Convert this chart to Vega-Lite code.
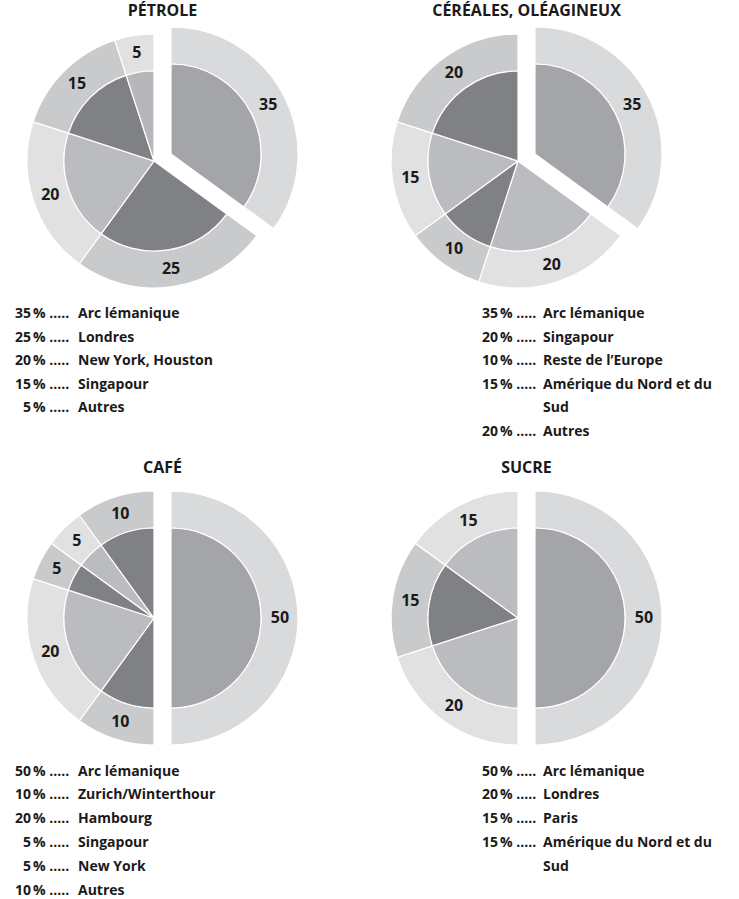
{
  "$schema": "https://vega.github.io/schema/vega-lite/v6.json",
  "background": "white",
  "padding": {"left": 4, "top": 2, "right": 0, "bottom": 0},
  "config": {
    "view": {"stroke": null},
    "title": {"font": "Open Sans", "fontSize": 16, "fontWeight": "bold", "color": "#1a1a1a", "anchor": "middle", "frame": "group", "baseline": "alphabetic", "offset": 6, "dx": 8.5},
    "text": {"font": "Open Sans", "color": "#1a1a1a"}
  },
  "datasets": {
    "petrole": [
      {"order": 1, "value": 35, "label": "Arc lémanique"},
      {"order": 2, "value": 25, "label": "Londres"},
      {"order": 3, "value": 20, "label": "New York, Houston"},
      {"order": 4, "value": 15, "label": "Singapour"},
      {"order": 5, "value": 5, "label": "Autres"}
    ],
    "cereales": [
      {"order": 1, "value": 35, "label": "Arc lémanique"},
      {"order": 2, "value": 20, "label": "Singapour"},
      {"order": 3, "value": 10, "label": "Reste de l’Europe"},
      {"order": 4, "value": 15, "label": "Amérique du Nord et du\nSud"},
      {"order": 5, "value": 20, "label": "Autres"}
    ],
    "cafe": [
      {"order": 1, "value": 50, "label": "Arc lémanique"},
      {"order": 2, "value": 10, "label": "Zurich/Winterthour"},
      {"order": 3, "value": 20, "label": "Hambourg"},
      {"order": 4, "value": 5, "label": "Singapour"},
      {"order": 5, "value": 5, "label": "New York"},
      {"order": 6, "value": 10, "label": "Autres"}
    ],
    "sucre": [
      {"order": 1, "value": 50, "label": "Arc lémanique"},
      {"order": 2, "value": 20, "label": "Londres"},
      {"order": 3, "value": 15, "label": "Paris"},
      {"order": 4, "value": 15, "label": "Amérique du Nord et du\nSud"}
    ]
  },
  "columns": 2,
  "spacing": {"row": 0, "column": 64},
  "concat": [
    {
      "width": 300, "height": 272,
      "title": "PÉTROLE",
      "data": {"name": "petrole"},
      "encoding": {
        "theta": {"field": "value", "type": "quantitative", "stack": true},
        "order": {"field": "order", "type": "quantitative", "sort": "ascending"}
      },
      "layer": [
        {"mark": {"type": "arc", "outerRadius": 127, "innerRadius": 90, "stroke": "white", "strokeWidth": 1.2},
         "encoding": {"color": {"field": "order", "type": "ordinal", "legend": null, "scale": {"domain": [1,2,3,4,5], "range": ["#d9dadb","#c9cacc","#e1e1e2","#c9cacc","#e1e1e2"]}},
                      "opacity": {"condition": {"test": "datum.order === 1", "value": 0}, "value": 1}}},
        {"mark": {"type": "arc", "outerRadius": 127, "innerRadius": 90, "stroke": "white", "strokeWidth": 1.2, "xOffset": 17, "yOffset": -7},
         "encoding": {"color": {"field": "order", "type": "ordinal", "legend": null, "scale": {"domain": [1,2,3,4,5], "range": ["#d9dadb","#c9cacc","#e1e1e2","#c9cacc","#e1e1e2"]}},
                      "opacity": {"condition": {"test": "datum.order === 1", "value": 1}, "value": 0}}},
        {"mark": {"type": "arc", "outerRadius": 90, "stroke": "white", "strokeWidth": 1.2},
         "encoding": {"fill": {"field": "order", "type": "ordinal", "legend": null, "scale": {"domain": [1,2,3,4,5], "range": ["#a4a5a8","#808184","#bbbcbf","#808184","#b6b7ba"]}},
                      "opacity": {"condition": {"test": "datum.order === 1", "value": 0}, "value": 1}}},
        {"mark": {"type": "arc", "outerRadius": 90, "stroke": "white", "strokeWidth": 1.2, "xOffset": 17, "yOffset": -7},
         "encoding": {"fill": {"field": "order", "type": "ordinal", "legend": null, "scale": {"domain": [1,2,3,4,5], "range": ["#a4a5a8","#808184","#bbbcbf","#808184","#b6b7ba"]}},
                      "opacity": {"condition": {"test": "datum.order === 1", "value": 1}, "value": 0}}},
        {"mark": {"type": "text", "radius": 109, "fontSize": 16, "fontWeight": "bold", "align": "center", "baseline": "middle"},
         "encoding": {"text": {"field": "value", "type": "quantitative"},
                      "opacity": {"condition": {"test": "datum.order === 1", "value": 0}, "value": 1}}},
        {"mark": {"type": "text", "radius": 109, "fontSize": 16, "fontWeight": "bold", "align": "center", "baseline": "middle", "xOffset": 17, "yOffset": -7},
         "encoding": {"text": {"field": "value", "type": "quantitative"},
                      "opacity": {"condition": {"test": "datum.order === 1", "value": 1}, "value": 0}}}
      ],
      "resolve": {"scale": {"color": "independent", "fill": "independent"}}
    },
    {
      "width": 300, "height": 272,
      "title": "CÉRÉALES, OLÉAGINEUX",
      "data": {"name": "cereales"},
      "encoding": {
        "theta": {"field": "value", "type": "quantitative", "stack": true},
        "order": {"field": "order", "type": "quantitative", "sort": "ascending"}
      },
      "layer": [
        {"mark": {"type": "arc", "outerRadius": 127, "innerRadius": 90, "stroke": "white", "strokeWidth": 1.2},
         "encoding": {"color": {"field": "order", "type": "ordinal", "legend": null, "scale": {"domain": [1,2,3,4,5], "range": ["#d9dadb","#e1e1e2","#c9cacc","#e1e1e2","#c9cacc"]}},
                      "opacity": {"condition": {"test": "datum.order === 1", "value": 0}, "value": 1}}},
        {"mark": {"type": "arc", "outerRadius": 127, "innerRadius": 90, "stroke": "white", "strokeWidth": 1.2, "xOffset": 17, "yOffset": -7},
         "encoding": {"color": {"field": "order", "type": "ordinal", "legend": null, "scale": {"domain": [1,2,3,4,5], "range": ["#d9dadb","#e1e1e2","#c9cacc","#e1e1e2","#c9cacc"]}},
                      "opacity": {"condition": {"test": "datum.order === 1", "value": 1}, "value": 0}}},
        {"mark": {"type": "arc", "outerRadius": 90, "stroke": "white", "strokeWidth": 1.2},
         "encoding": {"fill": {"field": "order", "type": "ordinal", "legend": null, "scale": {"domain": [1,2,3,4,5], "range": ["#a4a5a8","#bbbcbf","#808184","#bbbcbf","#808184"]}},
                      "opacity": {"condition": {"test": "datum.order === 1", "value": 0}, "value": 1}}},
        {"mark": {"type": "arc", "outerRadius": 90, "stroke": "white", "strokeWidth": 1.2, "xOffset": 17, "yOffset": -7},
         "encoding": {"fill": {"field": "order", "type": "ordinal", "legend": null, "scale": {"domain": [1,2,3,4,5], "range": ["#a4a5a8","#bbbcbf","#808184","#bbbcbf","#808184"]}},
                      "opacity": {"condition": {"test": "datum.order === 1", "value": 1}, "value": 0}}},
        {"mark": {"type": "text", "radius": 109, "fontSize": 16, "fontWeight": "bold", "align": "center", "baseline": "middle"},
         "encoding": {"text": {"field": "value", "type": "quantitative"},
                      "opacity": {"condition": {"test": "datum.order === 1", "value": 0}, "value": 1}}},
        {"mark": {"type": "text", "radius": 109, "fontSize": 16, "fontWeight": "bold", "align": "center", "baseline": "middle", "xOffset": 17, "yOffset": -7},
         "encoding": {"text": {"field": "value", "type": "quantitative"},
                      "opacity": {"condition": {"test": "datum.order === 1", "value": 1}, "value": 0}}}
      ],
      "resolve": {"scale": {"color": "independent", "fill": "independent"}}
    },
    {
      "width": 300, "height": 163,
      "data": {"name": "petrole"},
      "encoding": {
        "y": {"field": "order", "type": "quantitative", "axis": null, "scale": {"domain": [1,2,3,4,5], "range": [21,44.5,68,91.5,115], "zero": false, "nice": false}}
      },
      "layer": [
        {"mark": {"type": "text", "align": "right", "baseline": "alphabetic", "fontSize": 14, "fontWeight": "bold"},
         "encoding": {"x": {"datum": 1, "type": "quantitative", "axis": null, "scale": {"domain": [1,2,3], "range": [27,29,74], "zero": false, "nice": false}},
                      "text": {"field": "value", "type": "quantitative"}}},
        {"mark": {"type": "text", "align": "left", "baseline": "alphabetic", "fontSize": 14, "fontWeight": "bold"},
         "encoding": {"x": {"datum": 2, "type": "quantitative", "axis": null, "scale": {"domain": [1,2,3], "range": [27,29,74], "zero": false, "nice": false}},
                      "text": {"value": "% ....."}}},
        {"mark": {"type": "text", "align": "left", "baseline": "alphabetic", "fontSize": 14, "fontWeight": "bold", "lineBreak": "\n", "lineHeight": 23.5},
         "encoding": {"x": {"datum": 3, "type": "quantitative", "axis": null, "scale": {"domain": [1,2,3], "range": [27,29,74], "zero": false, "nice": false}},
                      "text": {"field": "label", "type": "nominal"}}}
      ]
    },
    {
      "width": 300, "height": 163,
      "data": {"name": "cereales"},
      "encoding": {
        "y": {"field": "order", "type": "quantitative", "axis": null, "scale": {"domain": [1,2,3,4,5], "range": [21,44.5,68,91.5,138.5], "zero": false, "nice": false}}
      },
      "layer": [
        {"mark": {"type": "text", "align": "right", "baseline": "alphabetic", "fontSize": 14, "fontWeight": "bold"},
         "encoding": {"x": {"datum": 1, "type": "quantitative", "axis": null, "scale": {"domain": [1,2,3], "range": [130,132,175], "zero": false, "nice": false}},
                      "text": {"field": "value", "type": "quantitative"}}},
        {"mark": {"type": "text", "align": "left", "baseline": "alphabetic", "fontSize": 14, "fontWeight": "bold"},
         "encoding": {"x": {"datum": 2, "type": "quantitative", "axis": null, "scale": {"domain": [1,2,3], "range": [130,132,175], "zero": false, "nice": false}},
                      "text": {"value": "% ....."}}},
        {"mark": {"type": "text", "align": "left", "baseline": "alphabetic", "fontSize": 14, "fontWeight": "bold", "lineBreak": "\n", "lineHeight": 23.5},
         "encoding": {"x": {"datum": 3, "type": "quantitative", "axis": null, "scale": {"domain": [1,2,3], "range": [130,132,175], "zero": false, "nice": false}},
                      "text": {"field": "label", "type": "nominal"}}}
      ]
    },
    {
      "width": 300, "height": 272,
      "title": "CAFÉ",
      "data": {"name": "cafe"},
      "encoding": {
        "theta": {"field": "value", "type": "quantitative", "stack": true},
        "order": {"field": "order", "type": "quantitative", "sort": "ascending"}
      },
      "layer": [
        {"mark": {"type": "arc", "outerRadius": 127, "innerRadius": 90, "stroke": "white", "strokeWidth": 1.2},
         "encoding": {"color": {"field": "order", "type": "ordinal", "legend": null, "scale": {"domain": [1,2,3,4,5,6], "range": ["#d9dadb","#c9cacc","#e1e1e2","#c9cacc","#e1e1e2","#c9cacc"]}},
                      "opacity": {"condition": {"test": "datum.order === 1", "value": 0}, "value": 1}}},
        {"mark": {"type": "arc", "outerRadius": 127, "innerRadius": 90, "stroke": "white", "strokeWidth": 1.2, "xOffset": 17, "yOffset": 0},
         "encoding": {"color": {"field": "order", "type": "ordinal", "legend": null, "scale": {"domain": [1,2,3,4,5,6], "range": ["#d9dadb","#c9cacc","#e1e1e2","#c9cacc","#e1e1e2","#c9cacc"]}},
                      "opacity": {"condition": {"test": "datum.order === 1", "value": 1}, "value": 0}}},
        {"mark": {"type": "arc", "outerRadius": 90, "stroke": "white", "strokeWidth": 1.2},
         "encoding": {"fill": {"field": "order", "type": "ordinal", "legend": null, "scale": {"domain": [1,2,3,4,5,6], "range": ["#a4a5a8","#808184","#bbbcbf","#808184","#bbbcbf","#808184"]}},
                      "opacity": {"condition": {"test": "datum.order === 1", "value": 0}, "value": 1}}},
        {"mark": {"type": "arc", "outerRadius": 90, "stroke": "white", "strokeWidth": 1.2, "xOffset": 17, "yOffset": 0},
         "encoding": {"fill": {"field": "order", "type": "ordinal", "legend": null, "scale": {"domain": [1,2,3,4,5,6], "range": ["#a4a5a8","#808184","#bbbcbf","#808184","#bbbcbf","#808184"]}},
                      "opacity": {"condition": {"test": "datum.order === 1", "value": 1}, "value": 0}}},
        {"mark": {"type": "text", "radius": 109, "fontSize": 16, "fontWeight": "bold", "align": "center", "baseline": "middle"},
         "encoding": {"text": {"field": "value", "type": "quantitative"},
                      "opacity": {"condition": {"test": "datum.order === 1", "value": 0}, "value": 1}}},
        {"mark": {"type": "text", "radius": 109, "fontSize": 16, "fontWeight": "bold", "align": "center", "baseline": "middle", "xOffset": 17, "yOffset": 0},
         "encoding": {"text": {"field": "value", "type": "quantitative"},
                      "opacity": {"condition": {"test": "datum.order === 1", "value": 1}, "value": 0}}}
      ],
      "resolve": {"scale": {"color": "independent", "fill": "independent"}}
    },
    {
      "width": 300, "height": 272,
      "title": "SUCRE",
      "data": {"name": "sucre"},
      "encoding": {
        "theta": {"field": "value", "type": "quantitative", "stack": true},
        "order": {"field": "order", "type": "quantitative", "sort": "ascending"}
      },
      "layer": [
        {"mark": {"type": "arc", "outerRadius": 127, "innerRadius": 90, "stroke": "white", "strokeWidth": 1.2},
         "encoding": {"color": {"field": "order", "type": "ordinal", "legend": null, "scale": {"domain": [1,2,3,4], "range": ["#d9dadb","#e1e1e2","#c9cacc","#e1e1e2"]}},
                      "opacity": {"condition": {"test": "datum.order === 1", "value": 0}, "value": 1}}},
        {"mark": {"type": "arc", "outerRadius": 127, "innerRadius": 90, "stroke": "white", "strokeWidth": 1.2, "xOffset": 17, "yOffset": 0},
         "encoding": {"color": {"field": "order", "type": "ordinal", "legend": null, "scale": {"domain": [1,2,3,4], "range": ["#d9dadb","#e1e1e2","#c9cacc","#e1e1e2"]}},
                      "opacity": {"condition": {"test": "datum.order === 1", "value": 1}, "value": 0}}},
        {"mark": {"type": "arc", "outerRadius": 90, "stroke": "white", "strokeWidth": 1.2},
         "encoding": {"fill": {"field": "order", "type": "ordinal", "legend": null, "scale": {"domain": [1,2,3,4], "range": ["#a4a5a8","#bbbcbf","#808184","#bbbcbf"]}},
                      "opacity": {"condition": {"test": "datum.order === 1", "value": 0}, "value": 1}}},
        {"mark": {"type": "arc", "outerRadius": 90, "stroke": "white", "strokeWidth": 1.2, "xOffset": 17, "yOffset": 0},
         "encoding": {"fill": {"field": "order", "type": "ordinal", "legend": null, "scale": {"domain": [1,2,3,4], "range": ["#a4a5a8","#bbbcbf","#808184","#bbbcbf"]}},
                      "opacity": {"condition": {"test": "datum.order === 1", "value": 1}, "value": 0}}},
        {"mark": {"type": "text", "radius": 109, "fontSize": 16, "fontWeight": "bold", "align": "center", "baseline": "middle"},
         "encoding": {"text": {"field": "value", "type": "quantitative"},
                      "opacity": {"condition": {"test": "datum.order === 1", "value": 0}, "value": 1}}},
        {"mark": {"type": "text", "radius": 109, "fontSize": 16, "fontWeight": "bold", "align": "center", "baseline": "middle", "xOffset": 17, "yOffset": 0},
         "encoding": {"text": {"field": "value", "type": "quantitative"},
                      "opacity": {"condition": {"test": "datum.order === 1", "value": 1}, "value": 0}}}
      ],
      "resolve": {"scale": {"color": "independent", "fill": "independent"}}
    },
    {
      "width": 300, "height": 146,
      "data": {"name": "cafe"},
      "encoding": {
        "y": {"field": "order", "type": "quantitative", "axis": null, "scale": {"domain": [1,2,3,4,5,6], "range": [21.5,45,69,93,116.5,140.5], "zero": false, "nice": false}}
      },
      "layer": [
        {"mark": {"type": "text", "align": "right", "baseline": "alphabetic", "fontSize": 14, "fontWeight": "bold"},
         "encoding": {"x": {"datum": 1, "type": "quantitative", "axis": null, "scale": {"domain": [1,2,3], "range": [27,29,74], "zero": false, "nice": false}},
                      "text": {"field": "value", "type": "quantitative"}}},
        {"mark": {"type": "text", "align": "left", "baseline": "alphabetic", "fontSize": 14, "fontWeight": "bold"},
         "encoding": {"x": {"datum": 2, "type": "quantitative", "axis": null, "scale": {"domain": [1,2,3], "range": [27,29,74], "zero": false, "nice": false}},
                      "text": {"value": "% ....."}}},
        {"mark": {"type": "text", "align": "left", "baseline": "alphabetic", "fontSize": 14, "fontWeight": "bold", "lineBreak": "\n", "lineHeight": 23.5},
         "encoding": {"x": {"datum": 3, "type": "quantitative", "axis": null, "scale": {"domain": [1,2,3], "range": [27,29,74], "zero": false, "nice": false}},
                      "text": {"field": "label", "type": "nominal"}}}
      ]
    },
    {
      "width": 300, "height": 146,
      "data": {"name": "sucre"},
      "encoding": {
        "y": {"field": "order", "type": "quantitative", "axis": null, "scale": {"domain": [1,2,3,4], "range": [21.5,45,69,93], "zero": false, "nice": false}}
      },
      "layer": [
        {"mark": {"type": "text", "align": "right", "baseline": "alphabetic", "fontSize": 14, "fontWeight": "bold"},
         "encoding": {"x": {"datum": 1, "type": "quantitative", "axis": null, "scale": {"domain": [1,2,3], "range": [130,132,175], "zero": false, "nice": false}},
                      "text": {"field": "value", "type": "quantitative"}}},
        {"mark": {"type": "text", "align": "left", "baseline": "alphabetic", "fontSize": 14, "fontWeight": "bold"},
         "encoding": {"x": {"datum": 2, "type": "quantitative", "axis": null, "scale": {"domain": [1,2,3], "range": [130,132,175], "zero": false, "nice": false}},
                      "text": {"value": "% ....."}}},
        {"mark": {"type": "text", "align": "left", "baseline": "alphabetic", "fontSize": 14, "fontWeight": "bold", "lineBreak": "\n", "lineHeight": 23.5},
         "encoding": {"x": {"datum": 3, "type": "quantitative", "axis": null, "scale": {"domain": [1,2,3], "range": [130,132,175], "zero": false, "nice": false}},
                      "text": {"field": "label", "type": "nominal"}}}
      ]
    }
  ]
}
